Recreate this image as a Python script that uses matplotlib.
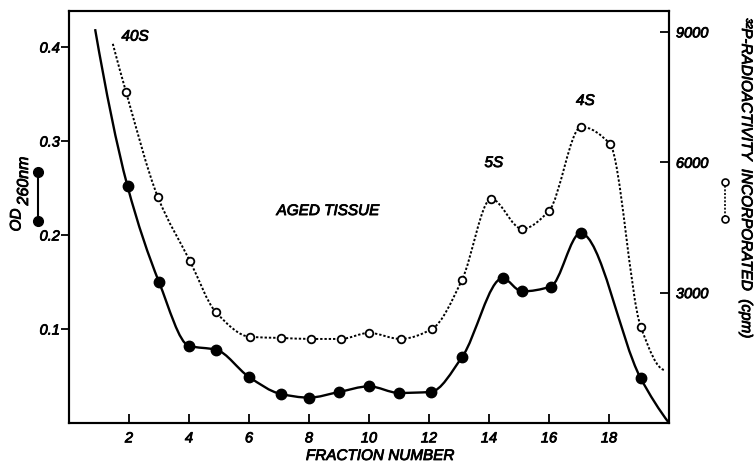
import numpy as np
import matplotlib
matplotlib.use("Agg")
import matplotlib.pyplot as plt
from matplotlib.path import Path
from matplotlib.patches import PathPatch
from matplotlib.lines import Line2D
import matplotlib.patheffects as pe

plt.rcParams['font.family'] = ['Liberation Sans', 'DejaVu Sans']
plt.rcParams['font.style'] = 'italic'

# ---- data ----
# OD 260nm (solid line, filled markers); first and last points are unmarked curve ends
od_x = [0.87, 1.95, 3.0, 4.0, 4.9, 6.0, 7.05, 8.0, 9.0, 10.0, 11.0, 12.05, 13.1, 14.45, 15.1, 16.05, 17.05, 19.05, 20.0]
od_y = [0.419, 0.252, 0.150, 0.082, 0.078, 0.049, 0.031, 0.027, 0.033, 0.039, 0.032, 0.033, 0.070, 0.154, 0.140, 0.145, 0.202, 0.048, 0.0]
# 32P radioactivity (dotted line, open markers); first and last points are unmarked curve ends
cpm_x = [1.46, 1.9, 2.96, 4.03, 4.89, 6.05, 7.08, 8.05, 9.05, 10.0, 11.05, 12.1, 13.1, 14.07, 15.1, 16.0, 17.07, 18.03, 19.06, 19.86]
cpm_y = [8725, 7620, 5203, 3729, 2555, 1980, 1957, 1934, 1934, 2072, 1934, 2164, 3292, 5156, 4466, 4880, 6814, 6423, 2210, 1220]

x_ticks = [2, 4, 6, 8, 10, 12, 14, 16, 18]
od_ticks = [0.1, 0.2, 0.3, 0.4]
od_ticklabels = ['0.1', '0.2', '0.3', '0.4']
cpm_ticks = [3000, 6000, 9000]

peak_labels = ['40S', '5S', '4S', 'AGED TISSUE']
peak_label_x = [1.75, 13.85, 16.9, 6.92]
peak_label_y = [0.411, 0.2766, 0.3426, 0.2255]

BOLD = [pe.withStroke(linewidth=0.6, foreground='black')]


def pchip_slopes(x, y):
    h = np.diff(x)
    d = np.diff(y) / h
    n = len(x)
    m = np.zeros(n)
    for k in range(1, n - 1):
        if d[k - 1] * d[k] <= 0:
            m[k] = 0.0
        else:
            w1 = 2 * h[k] + h[k - 1]
            w2 = h[k] + 2 * h[k - 1]
            m[k] = (w1 + w2) / (w1 / d[k - 1] + w2 / d[k])

    def end(h0, h1, d0, d1):
        s = ((2 * h0 + h1) * d0 - h0 * d1) / (h0 + h1)
        if np.sign(s) != np.sign(d0):
            s = 0.0
        elif np.sign(d0) != np.sign(d1) and abs(s) > abs(3 * d0):
            s = 3 * d0
        return s

    m[0] = end(h[0], h[1], d[0], d[1])
    m[-1] = end(h[-1], h[-2], d[-1], d[-2])
    return m


def smooth_path(xs, ys):
    """Monotone cubic Hermite curve through the data, drawn as Bezier path."""
    x = np.asarray(xs, float)
    y = np.asarray(ys, float)
    m = pchip_slopes(x, y)
    verts = [(x[0], y[0])]
    codes = [Path.MOVETO]
    for i in range(len(x) - 1):
        h = x[i + 1] - x[i]
        verts += [(x[i] + h / 3, y[i] + m[i] * h / 3),
                  (x[i + 1] - h / 3, y[i + 1] - m[i + 1] * h / 3),
                  (x[i + 1], y[i + 1])]
        codes += [Path.CURVE4] * 3
    return Path(verts, codes)


fig = plt.figure(figsize=(7.54, 4.65), dpi=100)
ax = fig.add_axes([69 / 754, 1 - 423 / 465, 600 / 754, 412 / 465])
ax2 = ax.twinx()

ax.set_xlim(0, 20)
ax.set_ylim(0, 0.4383)
ax2.set_ylim(0, 9480)

# solid OD curve
ax.add_patch(PathPatch(smooth_path(od_x, od_y), facecolor='none', edgecolor='black',
                       lw=1.7, transform=ax.transData, capstyle='butt'))
ax.plot(od_x[1:-1], od_y[1:-1], 'o', color='black', ms=7.5, zorder=5)

# dotted cpm curve
ax2.add_patch(PathPatch(smooth_path(cpm_x, cpm_y), facecolor='none', edgecolor='black',
                        lw=1.4, linestyle=(0, (1.2, 1.0)), transform=ax2.transData))
ax2.plot(cpm_x[1:-1], cpm_y[1:-1], 'o', mfc='white', mec='black', mew=1.3, ms=5.5, zorder=5)

# ticks
tick_font = dict(fontsize=10.5, fontstyle='italic')
ax.set_xticks(x_ticks)
ax.set_xticklabels([str(t) for t in x_ticks], **tick_font)
ax.set_yticks(od_ticks)
ax.set_yticklabels(od_ticklabels, **tick_font)
ax2.set_yticks(cpm_ticks)
ax2.set_yticklabels([str(t) for t in cpm_ticks], **tick_font)
for lab in ax.get_xticklabels() + ax.get_yticklabels() + ax2.get_yticklabels():
    lab.set_path_effects(BOLD)

ax.tick_params(axis='x', direction='in', length=6.5, width=1.3, pad=6)
ax.tick_params(axis='y', direction='out', length=5.5, width=1.3, pad=1)
ax2.tick_params(axis='y', direction='in', length=6.5, width=1.3, pad=5)

for a in (ax, ax2):
    for s in a.spines.values():
        s.set_linewidth(1.5)

ax.set_xlabel('FRACTION NUMBER', fontsize=11, fontstyle='italic', path_effects=BOLD)
ax.xaxis.set_label_coords((380 - 69) / 600, -(456 - 423) / 412, transform=ax.transAxes)
ax.xaxis.label.set_va('center')

# peak / annotation labels
for t, x, y in zip(peak_labels, peak_label_x, peak_label_y):
    ax.text(x, y, t, fontsize=11, fontstyle='italic', ha='left', va='center', path_effects=BOLD)

# left axis label: OD 260nm with legend symbol
fig.text(16.5 / 754, 1 - 220 / 465, 'OD', rotation=90, fontsize=11, fontstyle='italic',
         ha='center', va='center', path_effects=BOLD)
fig.text(23.5 / 754, 1 - 181 / 465, '260nm', rotation=90, fontsize=11.5, fontstyle='italic',
         ha='center', va='center', path_effects=BOLD)
fig.add_artist(Line2D([38 / 754, 38 / 754], [1 - 172 / 465, 1 - 221 / 465], color='black',
                      lw=1.5, marker='o', ms=7, transform=fig.transFigure))

# right axis label with legend symbol
fig.text(746 / 754, 1 - 178 / 465, '³²P-RADIOACTIVITY  INCORPORATED  (cpm)', rotation=-90,
         fontsize=11, fontstyle='italic', ha='center', va='center', path_effects=BOLD)
fig.add_artist(Line2D([725 / 754, 725 / 754], [1 - 182 / 465, 1 - 219 / 465], color='black',
                      lw=1.2, linestyle=(0, (1.2, 1.0)), marker='o', ms=5, mfc='white',
                      mec='black', mew=1.2, transform=fig.transFigure))

fig.savefig('out.png', dpi=100)
